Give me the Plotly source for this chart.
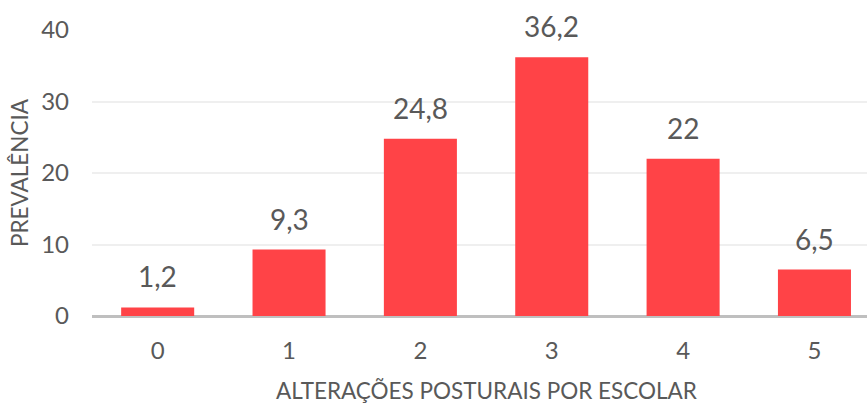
import plotly.graph_objects as go

categories = ["0", "1", "2", "3", "4", "5"]
values = [1.2, 9.3, 24.8, 36.2, 22, 6.5]
labels = ["1,2", "9,3", "24,8", "36,2", "22", "6,5"]
y_ticks = [0, 10, 20, 30, 40]
x_title = "ALTERAÇÕES POSTURAIS POR ESCOLAR"
y_title = "PREVALÊNCIA"

x_pos = list(range(len(categories)))
text_color = "#595959"
font_family = "Lato, Carlito, Calibri, sans-serif"

fig = go.Figure()
fig.add_trace(go.Bar(
    x=x_pos, y=values, width=0.556,
    marker=dict(color="#FF4347", line=dict(width=0)),
    hoverinfo="skip",
))

for xi, v, lab in zip(x_pos, values, labels):
    fig.add_annotation(
        x=xi, y=v, xref="x", yref="y", text=lab, showarrow=False,
        yanchor="bottom", yshift=12,
        font=dict(family=font_family, size=28, color=text_color),
    )

# x-axis title centred on the full category band (plot area is cropped on the right)
fig.add_annotation(
    x=(x_pos[0] + x_pos[-1]) / 2, y=0, xref="x", yref="y",
    text=x_title, showarrow=False, yanchor="middle", yshift=-74,
    font=dict(family=font_family, size=22.5, color=text_color),
)

fig.update_layout(
    width=867, height=403,
    margin=dict(l=92, r=0, t=30, b=87),
    plot_bgcolor="white", paper_bgcolor="white",
    showlegend=False,
    font=dict(family=font_family, color=text_color, size=22),
    xaxis=dict(
        range=[-0.5, 5.4], tickmode="array", tickvals=x_pos, ticktext=categories,
        showgrid=False, showline=False, zeroline=False, ticks="",
        ticklabelstandoff=18,
        tickfont=dict(size=24, color=text_color),
    ),
    yaxis=dict(
        range=[0, 40], tickvals=y_ticks,
        showgrid=True, gridcolor="#EFEFEF", gridwidth=2,
        zeroline=True, zerolinecolor="#BFBFBF", zerolinewidth=3,
        showline=False, ticks="",
        ticklabelstandoff=22,
        tickfont=dict(size=24, color=text_color),
        title=dict(text=y_title,
                   font=dict(size=22.5, color=text_color), standoff=6),
    ),
)

fig.write_html("out.html")
